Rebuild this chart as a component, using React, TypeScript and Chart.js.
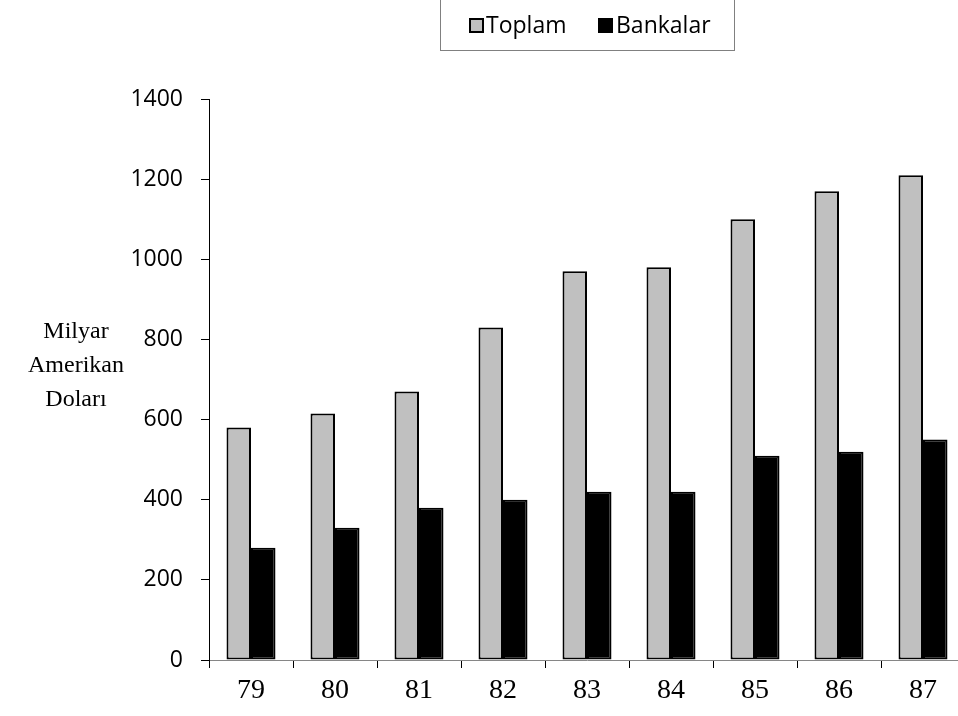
import React, { useEffect, useRef } from "react";
import { Chart, registerables } from "chart.js";

Chart.register(...registerables);

// Years (19xx) along the category axis
const categories = ["79", "80", "81", "82", "83", "84", "85", "86", "87"];
// Total amount, billions of US dollars
const toplam = [580, 615, 670, 830, 970, 980, 1100, 1170, 1210];
// Of which: banks
const bankalar = [280, 330, 380, 400, 420, 420, 510, 520, 550];
// Value axis
const yMin = 0;
const yMax = 1400;
const yStep = 200;

const seriesNames = ["Toplam", "Bankalar"];
const titleLines = ["Milyar", "Amerikan", "Doları"];

const SANS = '"Open Sans", "Noto Sans", sans-serif';
const SERIF = '"Liberation Serif", "Times New Roman", serif';

const decorPlugin = {
  id: "decor",
  afterDraw(chart: any) {
    const ctx = chart.ctx as CanvasRenderingContext2D;
    ctx.save();

    // Horizontal axis title on the left
    ctx.fillStyle = "#000";
    ctx.font = `24px ${SERIF}`;
    ctx.textAlign = "center";
    ctx.textBaseline = "alphabetic";
    const baselines = [338, 372, 406];
    titleLines.forEach((t, i) => ctx.fillText(t, 76, baselines[i]));

    // Framed legend at the top
    ctx.strokeStyle = "#808080";
    ctx.lineWidth = 1;
    ctx.strokeRect(440.5, -5.5, 294, 56);

    ctx.font = `23px ${SANS}`;
    ctx.textAlign = "left";
    ctx.textBaseline = "middle";

    ctx.fillStyle = "#C0C0C0";
    ctx.fillRect(470, 19, 13, 13);
    ctx.strokeStyle = "#000";
    ctx.lineWidth = 2;
    ctx.strokeRect(470, 19, 13, 13);
    ctx.fillStyle = "#000";
    ctx.fillText(seriesNames[0], 486, 26);

    ctx.fillRect(598, 18, 15, 15);
    ctx.fillText(seriesNames[1], 616, 26);

    ctx.restore();
  },
};

export default function App() {
  const canvasRef = useRef<HTMLCanvasElement | null>(null);

  useEffect(() => {
    const canvas = canvasRef.current;
    if (!canvas) return;
    const chart = new Chart(canvas, {
      type: "bar",
      data: {
        labels: categories,
        datasets: [
          {
            label: seriesNames[0],
            data: toplam,
            backgroundColor: "#C0C0C0",
            borderColor: "#000",
            borderWidth: 2,
            borderSkipped: false,
          },
          {
            label: seriesNames[1],
            data: bankalar,
            backgroundColor: "#000",
            borderColor: "#000",
            borderWidth: 2,
            borderSkipped: false,
          },
        ],
      },
      options: {
        responsive: false,
        animation: false,
        layout: { padding: { top: 99, right: 5, left: 0, bottom: 0 } },
        datasets: {
          bar: { categoryPercentage: 49 / 84, barPercentage: 1.0 },
        },
        plugins: {
          legend: { display: false },
          tooltip: { enabled: false },
        },
        scales: {
          x: {
            grid: {
              display: true,
              offset: true,
              drawOnChartArea: false,
              drawTicks: true,
              tickLength: 8,
              color: "#000",
            },
            border: { display: true, color: "#868686", width: 1 },
            ticks: {
              color: "#000",
              font: { family: SERIF, size: 28 },
              padding: 6,
              maxRotation: 0,
            },
            afterFit: (s: any) => {
              s.height = 56;
            },
          },
          y: {
            min: yMin,
            max: yMax,
            grid: {
              display: true,
              drawOnChartArea: false,
              drawTicks: true,
              tickLength: 8,
              color: "#000",
            },
            border: { display: true, color: "#000", width: 1 },
            ticks: {
              stepSize: yStep,
              color: "#000",
              font: { family: SANS, size: 23 },
              padding: 18,
              callback: (v: any) => String(v),
            },
            afterFit: (s: any) => {
              s.width = 209;
            },
          },
        },
      },
      plugins: [decorPlugin],
    });
    return () => chart.destroy();
  }, []);

  return (
    <div
      style={{
        position: "fixed",
        left: 0,
        top: 0,
        width: 958,
        height: 716,
        overflow: "hidden",
        background: "#fff",
      }}
    >
      <canvas ref={canvasRef} width={970} height={716} style={{ display: "block" }} />
    </div>
  );
}
